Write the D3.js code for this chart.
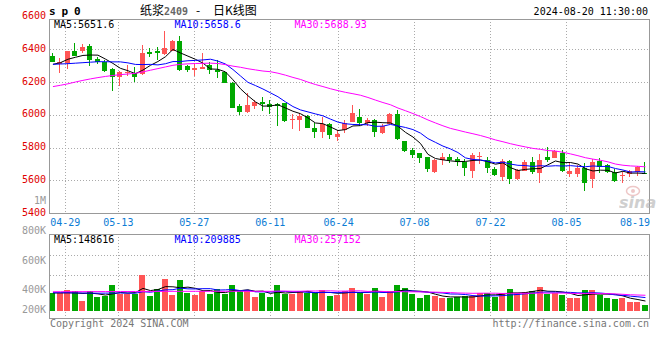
<!DOCTYPE html>
<html><head><meta charset="utf-8">
<script src="https://cdn.jsdelivr.net/npm/d3@7"></script>
<style>html,body{margin:0;padding:0;background:#fff}svg{display:block}</style>
</head><body><svg id="c" width="660" height="360"></svg>
<script>
// ---------- data ----------
const dates = ["04-25","04-26","04-29","04-30","05-06","05-07","05-08","05-09","05-10","05-13","05-14","05-15","05-16","05-17","05-20","05-21","05-22","05-23","05-24","05-27","05-28","05-29","05-30","05-31","06-03","06-04","06-05","06-06","06-07","06-11","06-12","06-13","06-14","06-17","06-18","06-19","06-20","06-21","06-24","06-25","06-26","06-27","06-28","07-01","07-02","07-03","07-04","07-05","07-08","07-09","07-10","07-11","07-12","07-15","07-16","07-17","07-18","07-19","07-22","07-23","07-24","07-25","07-26","07-29","07-30","07-31","08-01","08-02","08-05","08-06","08-07","08-08","08-09","08-12","08-13","08-14","08-15","08-16","08-19","08-20"];
const opens = [6362,6313,6319,6392,6392,6425,6343,6325,6281,6232, 6256,6260,6250,6388,6394,6373,6394,6453,6301,6275, 6284,6307,6279,6266,6195,6056,6022,6058,6081,6067, 6067,6073,5969,5971,5995,5924,5900,5947,5869,5910, 5961,5987,5955,5971,5893,5945,6006,5845,5788,5768, 5743,5655,5727,5743,5731,5716,5661,5747,5727,5672, 5625,5721,5611,5661,5716,5649,5747,5737,5767,5641, 5641,5676,5609,5721,5696,5655,5630,5643,5655,5649];
const highs = [6378,6351,6395,6439,6435,6437,6358,6337,6287,6270, 6307,6293,6429,6408,6418,6516,6458,6484,6307,6317, 6383,6327,6337,6272,6205,6069,6134,6093,6113,6093, 6073,6077,6008,6012,6002,5951,5991,5955,5910,5971, 6063,6038,5985,5980,5945,6012,6032,5845,5798,5771, 5747,5731,5767,5763,5743,5731,5771,5777,5747,5684, 5731,5727,5672,5727,5743,5763,5808,5788,5788,5716, 5696,5710,5731,5741,5702,5672,5655,5663,5692,5716];
const lows = [6325,6260,6283,6362,6380,6303,6311,6266,6150,6179, 6240,6203,6243,6356,6337,6368,6390,6271,6266,6242, 6282,6249,6229,6195,6042,6002,6011,6036,6026,6005, 5934,5961,5916,5904,5920,5859,5859,5855,5845,5890, 5961,5934,5935,5865,5884,5945,5849,5777,5737,5710, 5655,5647,5696,5710,5692,5631,5619,5700,5645,5629, 5598,5578,5605,5660,5641,5588,5716,5737,5652,5621, 5625,5539,5558,5649,5647,5590,5584,5625,5629,5641];
const closes = [6327,6327,6392,6364,6416,6340,6323,6272,6232,6266, 6267,6232,6382,6377,6383,6412,6455,6276,6279,6286, 6296,6276,6267,6199,6046,6022,6063,6079,6069,6052, 6056,5967,5978,5995,5924,5900,5945,5879,5886,5951, 6012,5955,5971,5900,5934,6006,5855,5784,5757,5737, 5674,5727,5743,5727,5713,5680,5757,5753,5680,5635, 5721,5611,5666,5713,5655,5727,5727,5782,5661,5660, 5680,5584,5713,5686,5655,5598,5638,5657,5686,5643];
const volumes = [305500,303800,356500,337600,154700,339200,230100,243300,450800,281000, 283500,279600,639400,243300,375300,563900,262200,545100,305500,262200, 337600,281000,375300,281000,450800,337600,356500,230100,305500,230100, 450800,281000,281000,337600,305500,305500,356500,243300,262200,337600, 386600,305500,281000,386600,230100,337600,450800,386600,281000,211200, 262200,243300,211200,198000,216900,249000,249000,305500,292300,230100, 305500,375300,305500,324400,337600,418700,281000,292300,262200,211200, 211200,356500,356500,262200,211200,186700,211200,135800,135800,73600];
// moving-average values before the window is full (earlier history not shown)
const ma5Lead = [6311,6321,6342,6354];
const ma10Lead = [6311,6313,6315,6318,6321,6324,6327,6327,6326];
const ma30Lead = [6175,6183,6192,6203,6213,6222,6230,6237,6243,6248,6252,6256,6265,6275,6285,6295,6305,6311,6314,6316,6317,6318,6316,6309,6300,6293,6284,6277,6270];
const vma5Lead = [300000,302000,304000,300000];
const vma10Lead = [305000,305000,304000,302000,300000,298000,296000,297000,299000];
const vma30Lead = [324000,324500,325000,325300,325000,325800,326000,326500,327000,327400,328000,328300,329000,329500,330000,330400,331000,331200,331500,331800,332000,332000,332300,332500,332400,332200,332000,331800,331700];
const xTickDates = ["04-29","05-13","05-27","06-11","06-24","07-08","07-22","08-05","08-19"];
const priceTicks = [5400,5600,5800,6000,6200,6400,6600];
const volTickValues = [800000,600000,400000,200000];
const volTickLabels = ["800K","600K","400K","200K"];
const maPeriods = [5,10,30];
const maColors = ["#000000","#0000ff","#ff00ff"];
const priceLegend = ["MA5:5651.6","MA10:5658.6","MA30:5688.93"];
const volLegend = ["MA5:148616","MA10:209885","MA30:257152"];

// ---------- setup ----------
const svg = d3.select("#c");
const mono = "'DejaVu Sans Mono', monospace";
const cjk = "'Noto Sans CJK SC', sans-serif";
const UP = "#ff5555", DOWN = "#00a800";
const L = 50, R = 650, mainTop = 19, mainBot = 213.5, volTop = 234.3, volBot = 318.3, volBase = 311;

const xBand = d3.scaleBand().domain(dates).range([49.2, 649.2]);
const xGrid = d3.scalePoint().domain(dates).range([L, R]);
const cx = d => xBand(d) + xBand.bandwidth() / 2;
const yP = d3.scaleLinear().domain([5400, 6600]).range([213.5, 17]);
const yV = d3.scaleLinear().domain([0, 1400000]).range([308.9, 308.9 - 1400000 / 18860]);
const yVLab = d3.scaleLinear().domain([200000, 400000, 600000, 800000]).range([313.3, 293.3, 264, 234]);

function movingAvg(arr, n, lead) {
  return arr.map((v, i) => i < n - 1 ? lead[i] : d3.mean(arr.slice(i - n + 1, i + 1)));
}
const priceMAs = [movingAvg(closes, 5, ma5Lead), movingAvg(closes, 10, ma10Lead), movingAvg(closes, 30, ma30Lead)];
const volMAs = [movingAvg(volumes, 5, vma5Lead), movingAvg(volumes, 10, vma10Lead), movingAvg(volumes, 30, vma30Lead)];

// ---------- grid ----------
const grid = svg.append("g").attr("stroke", "#aaa").attr("stroke-dasharray", "1,2").attr("shape-rendering", "crispEdges");
priceTicks.filter(v => v > 5400 && v < 6600).forEach(v => {
  const y = Math.floor(yP(v)) + 0.5;
  grid.append("line").attr("x1", L).attr("x2", R).attr("y1", y).attr("y2", y);
});
xTickDates.filter(d => xGrid(d) < R - 10).forEach(d => {
  const x = Math.floor(xGrid(d)) + 0.5;
  grid.append("line").attr("x1", x).attr("x2", x).attr("y1", mainTop).attr("y2", mainBot);
  grid.append("line").attr("x1", x).attr("x2", x).attr("y1", volTop).attr("y2", volBot);
});
[255, 275].forEach(y => grid.append("line").attr("x1", L).attr("x2", R).attr("y1", y + 0.5).attr("y2", y + 0.5));

// ---------- candles ----------
const cg = svg.append("g").attr("shape-rendering", "crispEdges");
dates.forEach((d, i) => {
  const o = opens[i], c = closes[i], col = c >= o ? UP : DOWN;
  const bx = Math.floor(cx(d) - 2.5);
  const wx = bx + 2.5;
  cg.append("line").attr("x1", wx).attr("x2", wx).attr("y1", yP(highs[i])).attr("y2", yP(lows[i])).attr("stroke", col);
  const top = yP(Math.max(o, c)), bot = yP(Math.min(o, c));
  cg.append("rect").attr("x", bx).attr("width", 5).attr("y", top).attr("height", Math.max(1, bot - top)).attr("fill", col);
  // volume
  const vx = Math.floor(cx(d) - 3);
  const vy = yV(volumes[i]);
  cg.append("rect").attr("x", vx).attr("width", 6).attr("y", vy).attr("height", volBase - vy).attr("fill", col);
});

// ---------- MA lines ----------
const lineP = d3.line().x((v, i) => cx(dates[i])).y(v => yP(v));
const lineV = d3.line().x((v, i) => cx(dates[i])).y(v => yV(v));
priceMAs.forEach((m, k) => svg.append("path").attr("d", lineP(m)).attr("fill", "none").attr("stroke", maColors[k]).attr("stroke-width", 1));
volMAs.forEach((m, k) => svg.append("path").attr("d", lineV(m)).attr("fill", "none").attr("stroke", maColors[k]).attr("stroke-width", 1));

// ---------- frames ----------
svg.append("rect").attr("x", 49.5).attr("y", 19.5).attr("width", 600).attr("height", 194).attr("fill", "none").attr("stroke", "#999");
svg.append("rect").attr("x", 49.5).attr("y", 234.5).attr("width", 600).attr("height", 84).attr("fill", "none").attr("stroke", "#999");

// ---------- axis labels ----------
const t = svg.append("g").style("font-family", mono).style("font-size", "10px");
priceTicks.forEach(v => t.append("text").attr("x", 46).attr("y", yP(v) + 2.2).attr("text-anchor", "end").attr("fill", "#e00000").text(v));
t.append("text").attr("x", 46).attr("y", 203.5).attr("text-anchor", "end").attr("fill", "#999").text("1M");
volTickValues.forEach((v, k) => t.append("text").attr("x", 46).attr("y", yVLab(v)).attr("text-anchor", "end").attr("fill", "#999").text(volTickLabels[k]));
xTickDates.forEach(d => {
  const x = Math.max(L + 15, Math.min(R - 15, xGrid(d)));
  t.append("text").attr("x", x).attr("y", 225.5).attr("text-anchor", "middle").attr("fill", "#0c7cd5").text(d);
});

// ---------- legends ----------
const legX = [54, 174.5, 294.5];
priceLegend.forEach((s, k) => t.append("text").attr("x", legX[k]).attr("y", 27.5).attr("fill", maColors[k]).text(s));
volLegend.forEach((s, k) => t.append("text").attr("x", legX[k]).attr("y", 242.5).attr("fill", maColors[k]).text(s));

// ---------- header / footer ----------
svg.append("text").attr("x", 49).attr("y", 15).style("font-family", mono).style("font-size", "11px").style("font-weight", "bold").style("letter-spacing", "-0.4px").attr("fill", "#000").text("s p 0");
const title = svg.append("text").attr("y", 14.5).style("font-size", "12px").attr("fill", "#000");
title.append("tspan").attr("x", 140).style("font-family", cjk).text("纸浆");
title.append("tspan").attr("x", 164).style("font-family", mono).style("font-size", "10px").style("font-weight", "bold").attr("fill", "#666").text("2409");
title.append("tspan").attr("x", 196).style("font-family", cjk).text("-");
title.append("tspan").attr("x", 213).style("font-family", cjk).text("日K线图");
t.append("text").attr("x", 648).attr("y", 15).attr("text-anchor", "end").attr("fill", "#000").text("2024-08-20 11:30:00");
t.append("text").attr("x", 50).attr("y", 327).attr("fill", "#777").text("Copyright 2024 SINA.COM");
t.append("text").attr("x", 649).attr("y", 327).attr("text-anchor", "end").attr("fill", "#777").text("http://finance.sina.com.cn");

// ---------- watermark ----------
const wm = svg.append("g").attr("opacity", 0.6);
wm.append("ellipse").attr("cx", 633).attr("cy", 191).attr("rx", 6.5).attr("ry", 4.5).attr("fill", "none").attr("stroke", "#e3a3a3").attr("stroke-width", 1.5);
wm.append("circle").attr("cx", 633).attr("cy", 191).attr("r", 2).attr("fill", "#e3a3a3");
wm.append("text").attr("x", 619).attr("y", 207.5).style("font-family", "'DejaVu Sans', sans-serif").style("font-size", "16px").style("font-weight", "bold").style("font-style", "italic").attr("fill", "#b0b0b0").text("sina");
</script></body></html>
